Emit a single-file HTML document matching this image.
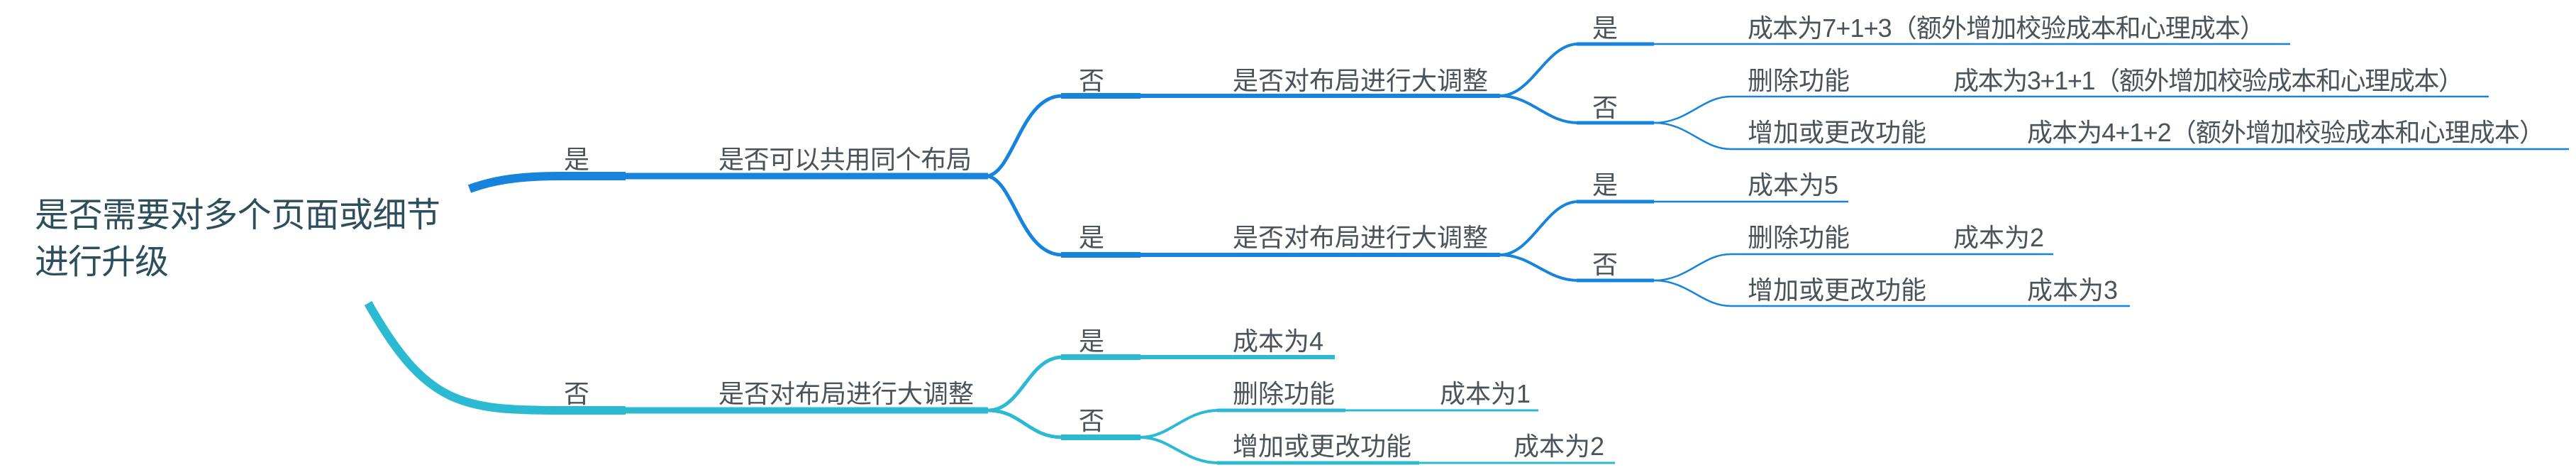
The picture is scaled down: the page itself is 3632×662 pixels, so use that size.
<!DOCTYPE html>
<html><head><meta charset="utf-8"><style>
html,body{margin:0;padding:0;background:#fff;}
svg{display:block;}
text{font-family:"Liberation Sans","Noto Sans CJK SC",sans-serif;font-size:36px;fill:#4b535a;}
</style></head><body>
<svg width="3632" height="662" viewBox="0 0 3632 662" xmlns="http://www.w3.org/2000/svg">
<g fill="none" stroke-linecap="butt">
<g stroke="#1684dc">
<path d="M662 266 C700 252 740 248 790 248 L882 248" stroke-width="12"/>
<path d="M880 248 L1393 248" stroke-width="9"/>
<path d="M1393 248 C1430 240 1440 135 1498 135" stroke-width="5"/>
<path d="M1393 248 C1430 256 1440 359 1498 359" stroke-width="5"/>
<path d="M1496 135 L1608 135" stroke-width="8"/>
<path d="M1496 359 L1608 359" stroke-width="8"/>
<path d="M1606 135 L2115 135" stroke-width="6"/>
<path d="M1606 359 L2115 359" stroke-width="6"/>
<path d="M2115 135 C2160 135 2180 62 2225 62" stroke-width="4"/>
<path d="M2115 135 C2160 135 2180 173 2225 173" stroke-width="4"/>
<path d="M2223 62 L2332 62" stroke-width="5"/>
<path d="M2223 173 L2332 173" stroke-width="5"/>
<path d="M2330 62 L3229 62" stroke-width="2.5"/>
<path d="M2332 173 C2380 173 2400 136 2440 136 L3509 136" stroke-width="2.5"/>
<path d="M2332 173 C2380 173 2400 210 2440 210 L3622 210" stroke-width="2.5"/>
<path d="M2115 359 C2160 359 2180 284 2225 284" stroke-width="4"/>
<path d="M2115 359 C2160 359 2180 395 2225 395" stroke-width="4"/>
<path d="M2223 284 L2332 284" stroke-width="5"/>
<path d="M2223 395 L2332 395" stroke-width="5"/>
<path d="M2330 284 L2606 284" stroke-width="2.5"/>
<path d="M2332 395 C2380 395 2400 358 2440 358 L2895 358" stroke-width="2.5"/>
<path d="M2332 395 C2380 395 2400 431 2440 431 L3003 431" stroke-width="2.5"/>
</g>
<g stroke="#2bbad2">
<path d="M519 427 C600 570 650 578 790 578 L882 578" stroke-width="12"/>
<path d="M880 578 L1393 578" stroke-width="9"/>
<path d="M1393 578 C1440 578 1450 503 1498 503" stroke-width="5"/>
<path d="M1393 578 C1440 578 1450 616 1498 616" stroke-width="5"/>
<path d="M1496 503 L1608 503" stroke-width="8"/>
<path d="M1496 616 L1608 616" stroke-width="8"/>
<path d="M1606 503 L1882 503" stroke-width="6"/>
<path d="M1608 616 C1650 616 1670 578 1718 578" stroke-width="4"/>
<path d="M1608 616 C1650 616 1670 652 1718 652" stroke-width="4"/>
<path d="M1716 578 L1897 578" stroke-width="5"/>
<path d="M1716 652 L2001 652" stroke-width="5"/>
<path d="M1895 578 L2169 578" stroke-width="3"/>
<path d="M1999 652 L2277 652" stroke-width="3"/>
</g>
</g>
<text x="49" y="319" style="font-size:48px;fill:#2d4f5c" textLength="572">是否需要对多个页面或细节</text>
<text x="49" y="385" style="font-size:48px;fill:#2d4f5c" textLength="189">进行升级</text>

<text x="795" y="237">是</text>
<text x="1013" y="237" textLength="357">是否可以共用同个布局</text>
<text x="1521" y="126">否</text>
<text x="1738" y="126" textLength="360">是否对布局进行大调整</text>
<text x="1521" y="347">是</text>
<text x="1738" y="347" textLength="360">是否对布局进行大调整</text>

<text x="2245" y="52">是</text>
<text x="2464" y="52" textLength="730">成本为7+1+3（额外增加校验成本和心理成本）</text>
<text x="2245" y="164">否</text>
<text x="2464" y="126">删除功能</text>
<text x="2754" y="126" textLength="720">成本为3+1+1（额外增加校验成本和心理成本）</text>
<text x="2464" y="199">增加或更改功能</text>
<text x="2858" y="199" textLength="730">成本为4+1+2（额外增加校验成本和心理成本）</text>

<text x="2245" y="273">是</text>
<text x="2464" y="273">成本为5</text>
<text x="2245" y="385">否</text>
<text x="2464" y="347">删除功能</text>
<text x="2754" y="347">成本为2</text>
<text x="2464" y="421">增加或更改功能</text>
<text x="2858" y="421">成本为3</text>

<text x="795" y="567">否</text>
<text x="1013" y="567" textLength="360">是否对布局进行大调整</text>
<text x="1521" y="493">是</text>
<text x="1738" y="493">成本为4</text>
<text x="1521" y="605">否</text>
<text x="1738" y="567">删除功能</text>
<text x="2030" y="567">成本为1</text>
<text x="1738" y="641">增加或更改功能</text>
<text x="2134" y="641">成本为2</text>
</svg>
</body></html>
